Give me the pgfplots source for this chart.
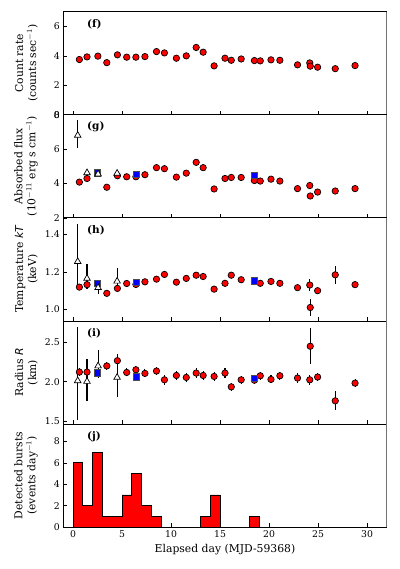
\documentclass[border=0pt]{standalone}
\usepackage{pgfplots}
\pgfplotsset{compat=1.18}
\usepackage{fontspec}
\setmainfont{DejaVu Serif}
\newfontfamily\sansfam{DejaVu Sans}
\newcommand{\tickfont}{\fontsize{9.3}{11}\selectfont}
\newcommand{\labfont}{\fontsize{10.8}{13}\selectfont}

\tikzset{plab/.style={anchor=west, font=\bfseries\fontsize{10.5}{12}\selectfont}}
\pgfplotsset{
  panel/.style={
    width=323.4pt, height=103.06pt, scale only axis,
    xmin=-1, xmax=32,
    xtick={0,5,...,30},
    tick align=inside, xtick pos=bottom, ytick pos=left,
    major tick length=4pt,
    tick style={black, line width=0.6pt},
    axis line style={black, line width=0.7pt},
    ticklabel style={font=\tickfont},
    /pgf/number format/assume math mode=true,
    every axis y label/.style={at={(rel axis cs:-0.0785,0.5)}, anchor=south,
      rotate=90, align=center, inner sep=0pt, font=\labfont},
    extra description/.code={\draw[black!55, line width=1.2pt] (rel axis cs:1,0)--(rel axis cs:1,1);},
  },
  circ/.style={only marks, mark=*, mark size=3.2pt,
    mark options={fill=red, draw=black, line width=0.7pt}},
  sq/.style={only marks, mark=square*, mark size=3.1pt,
    mark options={fill=blue, draw=black!70, line width=0.5pt}},
  tri/.style={only marks, mark=triangle*, mark size=3.8pt,
    mark options={fill=white, draw=black, line width=0.7pt}},
  ebar/.style={error bars/.cd, y dir=both, y explicit, error mark=none,
    error bar style={black, line width=1.1pt}},
}

\begin{document}
\begin{tikzpicture}
\useasboundingbox (-63.3pt,-557.3pt) rectangle (335.7pt,11.7pt);

% (f) count rate
\begin{axis}[panel, at={(0,0)}, anchor=north west,
  ymin=0, ymax=7, ytick={0,2,4,6}, xticklabels={},
  ylabel={Count rate\\(counts sec$^{-1}$)}]
\addplot[circ] coordinates {
(0.64,3.75) (1.42,3.93) (2.53,3.98) (3.44,3.54) (4.52,4.07) (5.47,3.91) (6.41,3.91)
(7.33,3.95) (8.51,4.29) (9.32,4.20) (10.54,3.84) (11.55,4.00) (12.56,4.57) (13.27,4.25)
(14.39,3.32) (15.50,3.84) (16.14,3.70) (17.15,3.79) (18.50,3.68) (19.10,3.66) (20.19,3.73)
(21.10,3.70) (22.90,3.39) (24.15,3.52) (24.20,3.30) (24.95,3.23) (26.75,3.13) (28.77,3.34)};
\node[plab] at (rel axis cs:0.063,0.88) {(f)};
\end{axis}

% (g) absorbed flux
\begin{axis}[panel, at={(0,-103.06pt)}, anchor=north west,
  ymin=2, ymax=8, ytick={2,4,6,8}, xticklabels={},
  ylabel={Absorbed flux\\(10$^{-11}$ erg s cm$^{-1}$)}]
\addplot[circ] coordinates {
(0.64,4.08) (1.42,4.29) (3.44,3.78) (4.52,4.45) (5.47,4.39) (6.41,4.39)
(7.33,4.51) (8.51,4.92) (9.32,4.86) (10.54,4.37) (11.55,4.60) (12.56,5.23) (13.27,4.92)
(14.39,3.68) (15.50,4.29) (16.14,4.35) (17.15,4.35) (18.50,4.17) (19.10,4.14) (20.19,4.25)
(21.10,4.14) (22.90,3.70) (24.15,3.88) (24.20,3.27) (24.95,3.50) (26.75,3.56) (28.77,3.70)};
\addplot[sq] coordinates {(2.50,4.62) (6.45,4.55) (18.50,4.47)};
\addplot[tri, ebar] coordinates {
(0.47,6.80) += (0,0.92) -= (0,0.74)
(1.42,4.62) +- (0,0.10)
(2.55,4.55) +- (0,0.10)
(4.49,4.59) +- (0,0.10)};
\node[plab] at (rel axis cs:0.063,0.88) {(g)};
\end{axis}

% (h) temperature
\begin{axis}[panel, at={(0,-206.12pt)}, anchor=north west,
  ymin=0.94, ymax=1.486, ytick={1.0,1.2,1.4}, xticklabels={},
  yticklabel style={/pgf/number format/.cd, fixed, fixed zerofill, precision=1},
  ylabel={Temperature {\sansfam\itshape kT}\\(keV)}]
\addplot[circ, ebar] coordinates {
(0.64,1.119) +- (0,0.015) (1.42,1.132) +- (0,0.015) (3.44,1.086) +- (0,0.015)
(4.52,1.112) +- (0,0.015) (5.47,1.138) +- (0,0.015) (6.41,1.133) +- (0,0.015)
(7.33,1.147) +- (0,0.015) (8.51,1.161) +- (0,0.015) (9.32,1.186) +- (0,0.015)
(10.54,1.145) +- (0,0.015) (11.55,1.165) +- (0,0.015) (12.56,1.182) +- (0,0.015)
(13.27,1.175) +- (0,0.015) (14.39,1.108) +- (0,0.015) (15.50,1.139) +- (0,0.015)
(16.14,1.182) +- (0,0.015) (17.15,1.158) +- (0,0.015) (18.50,1.150) +- (0,0.015)
(19.10,1.139) +- (0,0.015) (20.19,1.149) +- (0,0.015) (21.10,1.139) +- (0,0.015)
(22.90,1.116) +- (0,0.015) (24.15,1.130) +- (0,0.030) (24.20,1.011) +- (0,0.045)
(24.95,1.100) +- (0,0.015) (26.75,1.184) +- (0,0.048) (28.77,1.132) +- (0,0.015)};
\addplot[sq] coordinates {(2.50,1.141) (6.45,1.145) (18.50,1.153)};
\addplot[tri, ebar] coordinates {
(0.47,1.254) += (0,0.200) -= (0,0.135)
(1.42,1.165) += (0,0.077) -= (0,0.055)
(2.55,1.116) += (0,0.020) -= (0,0.036)
(4.49,1.150) += (0,0.069) -= (0,0.040)};
\node[plab] at (rel axis cs:0.063,0.88) {(h)};
\end{axis}

% (i) radius
\begin{axis}[panel, at={(0,-309.18pt)}, anchor=north west,
  ymin=1.467, ymax=2.77, ytick={1.5,2.0,2.5}, xticklabels={},
  yticklabel style={/pgf/number format/.cd, fixed, fixed zerofill, precision=1},
  ylabel={Radius {\sansfam\itshape R}\\(km)}]
\addplot[circ, ebar] coordinates {
(0.64,2.123) +- (0,0.05) (1.42,2.123) +- (0,0.05) (3.44,2.200) +- (0,0.05)
(4.52,2.267) +- (0,0.09) (5.47,2.118) +- (0,0.05) (6.41,2.152) +- (0,0.05)
(7.33,2.106) +- (0,0.05) (8.51,2.136) +- (0,0.05) (9.32,2.025) +- (0,0.06)
(10.54,2.080) +- (0,0.06) (11.55,2.055) +- (0,0.06) (12.56,2.110) +- (0,0.06)
(13.27,2.080) +- (0,0.06) (14.39,2.068) +- (0,0.06) (15.50,2.110) +- (0,0.06)
(16.14,1.936) +- (0,0.05) (17.15,2.025) +- (0,0.05) (18.50,2.020) +- (0,0.05)
(19.10,2.076) +- (0,0.05) (20.19,2.030) +- (0,0.05) (21.10,2.076) +- (0,0.05)
(22.90,2.047) +- (0,0.06) (24.15,2.025) +- (0,0.06) (24.20,2.449) += (0,0.23) -= (0,0.22)
(24.95,2.060) +- (0,0.05) (26.75,1.759) +- (0,0.12) (28.77,1.983) +- (0,0.05)};
\addplot[sq] coordinates {(2.50,2.114) (6.45,2.064) (18.50,2.047)};
\addplot[tri, ebar] coordinates {
(0.47,2.013) += (0,0.68) -= (0,0.50)
(1.42,2.004) += (0,0.29) -= (0,0.25)
(2.55,2.200) += (0,0.20) -= (0,0.15)
(4.49,2.055) += (0,0.21) -= (0,0.245)};
\node[plab] at (rel axis cs:0.063,0.88) {(i)};
\end{axis}

% (j) detected bursts
\begin{axis}[panel, at={(0,-412.24pt)}, anchor=north west,
  ymin=0, ymax=9.65, ytick={0,2,4,6,8},
  ylabel={Detected bursts\\(events day$^{-1}$)},
  xlabel={Elapsed day (MJD-59368)},
  xlabel style={font=\fontsize{10.8}{13}\selectfont}]
\addplot[const plot, fill=red, draw=black, line width=0.9pt] coordinates {
(0,0) (0,6) (1,2) (2,7) (3,1) (4,1) (5,3) (6,5) (7,2) (8,1) (9,0)
(10,0) (11,0) (12,0) (13,1) (14,3) (15,0) (16,0) (17,0) (18,1) (19,0)} \closedcycle;
\node[plab] at (rel axis cs:0.063,0.88) {(j)};
\end{axis}
\end{tikzpicture}
\end{document}
